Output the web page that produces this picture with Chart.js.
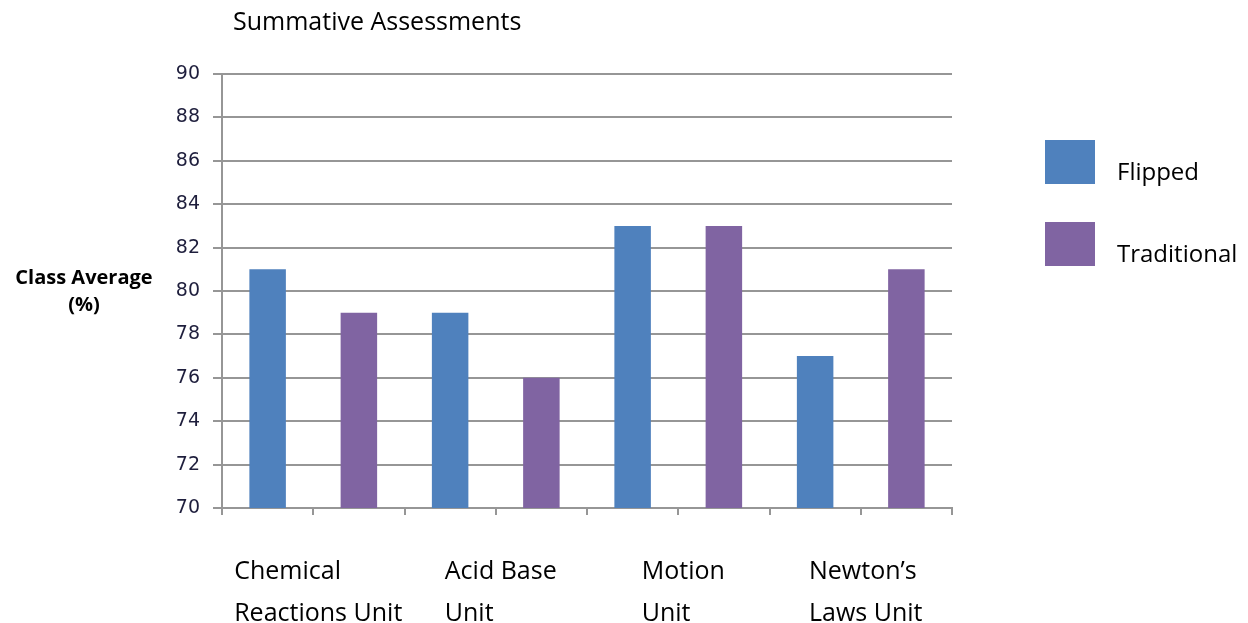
<!DOCTYPE html>
<html lang="en">
<head>
  <title>Summative Assessments</title>
  <meta charset="utf-8">
  <script src="https://cdn.jsdelivr.net/npm/chart.js@4.4.1/dist/chart.umd.min.js"></script>
  <style>
    body { margin: 0; background: #fff; }
    .chart-container { position: relative; width: 1248px; height: 623px; }
  </style>
</head>
<body>
<div class="chart-container"><canvas id="myChart"></canvas></div>
<script>
// each unit takes two slots: flipped bar, then traditional bar
var units = ['Chemical\nReactions Unit', 'Acid Base\nUnit', 'Motion\nUnit', 'Newton\u2019s\nLaws Unit'];
var slots = ['Chem F', 'Chem T', 'Acid F', 'Acid T', 'Motion F', 'Motion T', 'Newton F', 'Newton T'];
var flipped = [81, null, 79, null, 83, null, 77, null];
var traditional = [null, 79, null, 76, null, 83, null, 81];
var yTicks = [70, 72, 74, 76, 78, 80, 82, 84, 86, 88, 90];

var FONT = '"Open Sans", sans-serif';

// title, y title, unit labels and legend are drawn by hand
var extras = {
  id: 'extras',
  afterDraw: function(chart) {
    var ctx = chart.ctx;
    var xs = chart.scales.x;
    ctx.save();
    ctx.fillStyle = '#000';
    ctx.textBaseline = 'middle';

    ctx.font = '25px ' + FONT;
    ctx.textAlign = 'left';
    ctx.fillText('Summative Assessments', 233, 23);

    ctx.font = 'bold 20px ' + FONT;
    ctx.textAlign = 'center';
    ctx.fillText('Class Average', 84, 278);
    ctx.fillText('(%)', 84, 305);

    // unit labels, block centred on the boundary between the two bars
    ctx.font = '25px ' + FONT;
    ctx.textAlign = 'left';
    units.forEach(function(u, g) {
      var lines = u.split('\n');
      var cx = (xs.getPixelForValue(2 * g) + xs.getPixelForValue(2 * g + 1)) / 2;
      var w = Math.max.apply(null, lines.map(function(l) { return ctx.measureText(l).width; }));
      lines.forEach(function(l, i) {
        ctx.fillText(l, cx - w / 2 + 5, 572 + i * 42);
      });
    });

    // legend
    ctx.font = '24px ' + FONT;
    chart.data.datasets.forEach(function(ds, i) {
      var top = 140 + i * 82;
      ctx.fillStyle = ds.backgroundColor;
      ctx.fillRect(1045, top, 50, 44);
      ctx.fillStyle = '#000';
      ctx.fillText(ds.label, 1117, top + 33);
    });
    ctx.restore();
  }
};

var ctx = document.getElementById('myChart').getContext('2d');
var chart = new Chart(ctx, {
  type: 'bar',
  data: {
    labels: slots,
    datasets: [
      { label: 'Flipped', data: flipped, backgroundColor: '#4F81BD' },
      { label: 'Traditional', data: traditional, backgroundColor: '#8064A2' }
    ]
  },
  options: {
    responsive: true,
    maintainAspectRatio: false,
    animation: false,
    layout: { padding: { top: 74, right: 296, bottom: 0, left: 0 } },
    datasets: { bar: { grouped: false, categoryPercentage: 1, barPercentage: 0.4 } },
    plugins: { legend: { display: false }, title: { display: false }, tooltip: { enabled: false } },
    scales: {
      x: {
        afterFit: function(s) { s.height = 115; },
        border: { color: '#969696', width: 2 },
        grid: { offset: true, drawOnChartArea: false, drawTicks: true, tickLength: 7, color: '#969696', lineWidth: 2 },
        ticks: { callback: function() { return ''; } }
      },
      y: {
        min: 70, max: 90,
        afterFit: function(s) { s.width = 222; },
        afterBuildTicks: function(s) { s.ticks = yTicks.map(function(v) { return { value: v }; }); },
        border: { color: '#969696', width: 2 },
        grid: { color: '#969696', lineWidth: 2, tickLength: 9 },
        ticks: { padding: 13, color: '#1e1e3c', font: { family: '"DejaVu Sans", sans-serif', size: 19 } }
      }
    }
  },
  plugins: [extras]
});
</script>
</body>
</html>
